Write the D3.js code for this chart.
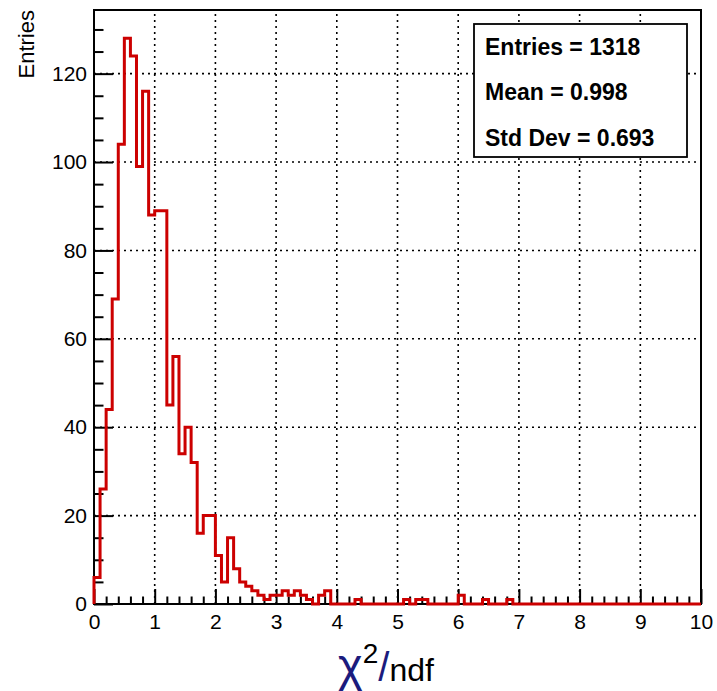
<!DOCTYPE html>
<html>
<head>
<meta charset="utf-8">
<script src="https://cdn.jsdelivr.net/npm/d3@7"></script>
<style>
  html, body { margin: 0; padding: 0; background: #ffffff; }
  svg { display: block; font-family: "Liberation Sans", Arial, Helvetica, sans-serif; }
</style>
</head>
<body>
<svg id="chart" width="717" height="691"></svg>
<script>
// Histogram definition: 100 equal bins between 0 and 10 (chi2/ndf)
const xMin = 0;
const xMax = 10;
const nBins = 100;

// Bin contents, bin 0 = [0.0, 0.1), bin 99 = [9.9, 10.0)
const binCounts = [
  6, 26, 44, 69, 104, 128, 124, 99, 116, 88,
  89, 89, 45, 56, 34, 40, 32, 16, 20, 20,
  11, 5, 15, 8, 5, 4, 3, 2, 1, 2,
  2, 3, 2, 3, 2, 1, 0, 2, 3, 0,
  0, 0, 0, 1, 0, 0, 0, 0, 0, 0,
  0, 1, 0, 1, 1, 0, 0, 0, 0, 0,
  2, 0, 0, 0, 1, 0, 0, 0, 1, 0,
  0, 0, 0, 0, 0, 0, 0, 0, 0, 0,
  0, 0, 0, 0, 0, 0, 0, 0, 0, 0,
  0, 0, 0, 0, 0, 0, 0, 0, 0, 0
];

// Axis ticks
const xMajorTicks = [0, 1, 2, 3, 4, 5, 6, 7, 8, 9, 10];
const xMinorStep = 0.2;
const yMajorTicks = [0, 20, 40, 60, 80, 100, 120];
const yMinorStep = 5;
const yAxisMax = 134.4;

// Statistics box lines
const statsLines = ["Entries = 1318", "Mean = 0.998", "Std Dev = 0.693"];

// Axis titles
const yTitle = "Entries";

// ---- layout ----
const frame = { left: 94, right: 701, top: 10, bottom: 604 };
const histColor = "#cc0000";
const titleBlue = "#1b1b7d";

const svg = d3.select("#chart");

const x = d3.scaleLinear().domain([xMin, xMax]).range([frame.left, frame.right]);
const y = d3.scaleLinear().domain([0, yAxisMax]).range([frame.bottom, frame.top]);

// dotted grid at major ticks
const grid = svg.append("g").attr("class", "grid")
  .attr("stroke", "#000").attr("stroke-width", 1.6).attr("stroke-dasharray", "2,4");
grid.selectAll("line.gx")
  .data(xMajorTicks.filter(v => v > xMin && v < xMax))
  .join("line").attr("class", "gx")
  .attr("x1", d => x(d)).attr("x2", d => x(d))
  .attr("y1", frame.bottom).attr("y2", frame.top);
grid.selectAll("line.gy")
  .data(yMajorTicks.filter(v => v > 0))
  .join("line").attr("class", "gy")
  .attr("y1", d => y(d)).attr("y2", d => y(d))
  .attr("x1", frame.left).attr("x2", frame.right);

// minor tick values
const xMinorTicks = d3.range(xMin, xMax + 1e-9, xMinorStep)
  .filter(v => !xMajorTicks.some(m => Math.abs(m - v) < 1e-6));
const yMinorTicks = d3.range(0, yAxisMax, yMinorStep)
  .filter(v => !yMajorTicks.includes(v));

// axes with ticks pointing into the frame
const xAxisMajor = d3.axisBottom(x).tickValues(xMajorTicks)
  .tickFormat(d3.format("d")).tickSizeInner(-15).tickSizeOuter(0).tickPadding(10);
const xAxisMinor = d3.axisBottom(x).tickValues(xMinorTicks)
  .tickFormat("").tickSizeInner(-7.5).tickSizeOuter(0);
const yAxisMajor = d3.axisLeft(y).tickValues(yMajorTicks)
  .tickFormat(d3.format("d")).tickSizeInner(-19).tickSizeOuter(0).tickPadding(7);
const yAxisMinor = d3.axisLeft(y).tickValues(yMinorTicks)
  .tickFormat("").tickSizeInner(-9.5).tickSizeOuter(0);

function styleAxis(g) {
  g.select(".domain").remove();
  g.selectAll(".tick line").attr("stroke", "#000").attr("stroke-width", 2);
  g.selectAll(".tick text").attr("fill", "#000")
    .style("font-size", "21px")
    .style("font-family", "\"Liberation Sans\", Arial, Helvetica, sans-serif");
}

svg.append("g").attr("transform", `translate(0,${frame.bottom})`).call(xAxisMinor).call(styleAxis);
svg.append("g").attr("transform", `translate(0,${frame.bottom})`).call(xAxisMajor).call(styleAxis);
svg.append("g").attr("transform", `translate(${frame.left},0)`).call(yAxisMinor).call(styleAxis);
svg.append("g").attr("transform", `translate(${frame.left},0)`).call(yAxisMajor).call(styleAxis);

// frame
svg.append("rect")
  .attr("x", frame.left).attr("y", frame.top)
  .attr("width", frame.right - frame.left).attr("height", frame.bottom - frame.top)
  .attr("fill", "none").attr("stroke", "#000").attr("stroke-width", 2);

// histogram outline as a step line
const binWidth = (xMax - xMin) / nBins;
const stepPoints = [{ x: xMin, v: 0 }]
  .concat(binCounts.map((c, i) => ({ x: xMin + i * binWidth, v: c })))
  .concat([{ x: xMax, v: binCounts[binCounts.length - 1] }, { x: xMax, v: 0 }]);

const stepLine = d3.line()
  .x(d => x(d.x))
  .y(d => y(d.v))
  .curve(d3.curveStepAfter);

svg.append("path")
  .datum(stepPoints)
  .attr("d", stepLine)
  .attr("fill", "none")
  .attr("stroke", histColor)
  .attr("stroke-width", 3)
  .attr("stroke-linejoin", "miter");

// statistics box
const stats = svg.append("g").attr("class", "stats");
stats.append("rect")
  .attr("x", 474).attr("y", 24).attr("width", 213).attr("height", 133)
  .attr("fill", "#fff").attr("stroke", "#000").attr("stroke-width", 1.8);
stats.selectAll("text")
  .data(statsLines)
  .join("text")
  .attr("x", 485)
  .attr("y", (d, i) => 55 + i * 45.3)
  .attr("fill", "#000")
  .style("font-size", "23px")
  .style("font-weight", "bold")
  .text(d => d);

// y axis title
svg.append("text")
  .attr("transform", `translate(34,${frame.top}) rotate(-90)`)
  .attr("text-anchor", "end")
  .attr("fill", "#000")
  .style("font-size", "22px")
  .text(yTitle);

// x axis title: chi^2/ndf
const xt = svg.append("text")
  .attr("x", 338).attr("y", 681)
  .attr("fill", "#000");
xt.append("tspan").attr("fill", titleBlue).style("font-size", "47px").text("\u03C7");
xt.append("tspan").attr("dy", -18).style("font-size", "28px").text("2");
xt.append("tspan").attr("dy", 18).attr("fill", titleBlue).style("font-size", "40px").text("/");
xt.append("tspan").style("font-size", "32px").text("ndf");
</script>
</body>
</html>
